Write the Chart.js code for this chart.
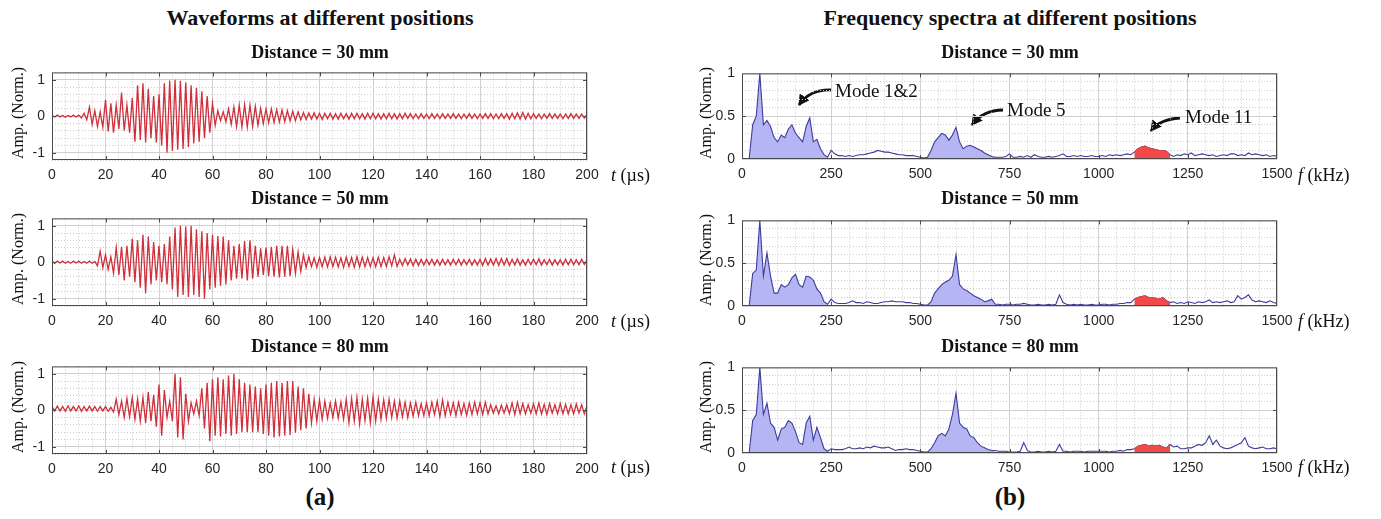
<!DOCTYPE html>
<html>
<head>
<meta charset="utf-8">
<script src="https://cdn.jsdelivr.net/npm/chart.js@4.4.0/dist/chart.umd.min.js"></script>
<style>
  body { margin: 0; background: #fff; width: 1381px; height: 519px; position: relative; overflow: hidden; }
  canvas { position: absolute; }
  .txt { position: absolute; white-space: nowrap; color: #111; font-family: "Liberation Serif", "Times New Roman", serif; transform: translate(-50%, -50%); }
  .head { font-size: 22px; font-weight: bold; }
  .sub { font-size: 18px; font-weight: bold; }
  .ylab { font-size: 16px; transform: translate(-50%, -50%) rotate(-90deg); }
  .xlab { font-size: 18px; transform: translate(0, -50%); }
  .tag { font-size: 25px; font-weight: bold; }
  .note { font-size: 19px; transform: translate(0, -50%); }
  svg { position: absolute; left: 0; top: 0; }
</style>
</head>
<body>
<svg width="1381" height="519" id="arrows">
  <defs>
    <marker id="head" markerWidth="12" markerHeight="12" refX="10" refY="6" orient="auto" markerUnits="userSpaceOnUse">
      <path d="M0,0 L11,6 L0,12 Z" fill="#111"/>
    </marker>
  </defs>
  <path d="M832,90 Q810,89 799,105" stroke="#111" stroke-width="2.8" fill="none" marker-end="url(#head)"/>
  <path d="M1003,110 Q983,110 972,125" stroke="#111" stroke-width="2.8" fill="none" marker-end="url(#head)"/>
  <path d="M1180,118 Q1160,119 1151,131" stroke="#111" stroke-width="2.8" fill="none" marker-end="url(#head)"/>
</svg>
<script>
// ===============================
// DATA
// ===============================
const distances = ["30", "50", "80"];
const T_STEP = 1;      // µs between samples
const F_STEP = 10;     // kHz between samples

const wave30 = [
  0.02,-0.02,0.03,-0.02,0.02,-0.03,0.02,-0.02,0.03,-0.02,
  0.03,-0.05,0.08,-0.1,0.25,-0.22,0.15,-0.28,0.12,-0.3,
  0.45,-0.42,0.35,-0.45,0.3,-0.35,0.65,-0.4,0.3,-0.45,
  0.5,-0.7,0.85,-0.65,0.9,-0.72,0.75,-0.6,0.55,-0.72,
  0.6,-0.8,0.9,-1.0,0.98,-0.95,1.0,-0.92,0.97,-0.9,
  0.92,-0.85,0.85,-0.75,0.78,-0.7,0.68,-0.6,0.55,-0.45,
  0.35,-0.25,0.15,-0.12,0.12,-0.15,0.2,-0.22,0.25,-0.28,
  0.3,-0.3,0.32,-0.3,0.3,-0.28,0.27,-0.25,0.22,-0.2,
  0.2,-0.18,0.2,-0.17,0.18,-0.16,0.17,-0.15,0.15,-0.13,
  0.14,-0.12,0.12,-0.1,0.1,-0.09,0.09,-0.08,0.09,-0.08,
  0.08,-0.09,0.08,-0.07,0.08,-0.08,0.07,-0.08,0.08,-0.07,
  0.07,-0.08,0.08,-0.07,0.08,-0.07,0.07,-0.08,0.08,-0.07,
  0.08,-0.07,0.07,-0.08,0.07,-0.07,0.08,-0.07,0.07,-0.08,
  0.07,-0.07,0.08,-0.06,0.07,-0.07,0.06,-0.07,0.07,-0.06,
  0.06,-0.07,0.07,-0.06,0.06,-0.07,0.07,-0.06,0.06,-0.06,
  0.07,-0.06,0.06,-0.07,0.06,-0.06,0.07,-0.06,0.06,-0.07,
  0.06,-0.06,0.07,-0.06,0.07,-0.07,0.06,-0.07,0.07,-0.06,
  0.07,-0.08,0.08,-0.07,0.09,-0.08,0.1,-0.08,0.08,-0.07,
  0.07,-0.06,0.06,-0.07,0.06,-0.06,0.07,-0.06,0.06,-0.06,
  0.06,-0.07,0.06,-0.06,0.07,-0.06,0.06,-0.06,0.06,-0.05,
  0.05
];

const wave50 = [
  0.03,-0.03,0.03,-0.02,0.03,-0.03,0.02,-0.03,0.03,-0.02,
  0.03,-0.03,0.02,-0.03,0.03,-0.03,0.02,-0.1,0.3,-0.15,
  0.2,-0.2,0.15,-0.3,0.4,-0.35,0.42,-0.5,0.45,-0.4,
  0.65,-0.55,0.6,-0.7,0.75,-0.85,0.7,-0.6,0.55,-0.5,
  0.45,-0.55,0.5,-0.6,0.7,-0.75,0.95,-0.95,1.0,-0.9,
  0.98,-0.95,1.0,-0.9,0.9,-0.95,0.85,-1.0,0.8,-0.75,
  0.75,-0.7,0.72,-0.65,0.7,-0.6,0.6,-0.5,0.45,-0.45,
  0.5,-0.45,0.58,-0.5,0.6,-0.45,0.45,-0.4,0.38,-0.35,
  0.4,-0.38,0.42,-0.4,0.45,-0.42,0.45,-0.4,0.45,-0.38,
  0.35,-0.3,0.28,-0.25,0.2,-0.15,0.15,-0.12,0.12,-0.14,
  0.13,-0.12,0.14,-0.13,0.15,-0.12,0.14,-0.13,0.12,-0.14,
  0.14,-0.12,0.13,-0.14,0.15,-0.13,0.14,-0.12,0.13,-0.12,
  0.12,-0.13,0.14,-0.12,0.13,-0.12,0.15,-0.1,0.2,-0.12,
  0.08,-0.09,0.1,-0.08,0.09,-0.1,0.08,-0.09,0.08,-0.08,
  0.08,-0.07,0.08,-0.08,0.07,-0.08,0.08,-0.07,0.07,-0.08,
  0.08,-0.07,0.08,-0.08,0.07,-0.07,0.08,-0.08,0.07,-0.08,
  0.08,-0.09,0.1,-0.08,0.09,-0.08,0.1,-0.09,0.1,-0.08,
  0.1,-0.09,0.08,-0.08,0.09,-0.08,0.07,-0.08,0.08,-0.07,
  0.08,-0.07,0.09,-0.08,0.07,-0.07,0.08,-0.08,0.07,-0.07,
  0.07,-0.08,0.08,-0.07,0.08,-0.07,0.07,-0.07,0.08,-0.06,
  0.06
];

const wave80 = [
  0.1,-0.02,0.11,-0.02,0.1,-0.03,0.12,-0.02,0.1,-0.02,
  0.12,-0.03,0.1,-0.02,0.11,-0.02,0.1,-0.03,0.1,-0.02,
  0.1,-0.03,0.08,-0.05,0.3,-0.12,0.25,-0.2,0.32,-0.18,
  0.35,-0.25,0.3,-0.3,0.35,-0.35,0.5,-0.3,0.42,-0.45,
  0.7,-0.7,0.55,-0.2,0.25,-0.3,1.0,-0.75,0.9,-0.8,
  0.45,-0.3,0.2,-0.1,0.25,-0.15,0.6,-0.5,0.75,-0.85,
  0.85,-0.7,0.9,-0.72,0.85,-0.65,0.95,-0.7,1.0,-0.65,
  0.85,-0.6,0.75,-0.6,0.7,-0.6,0.65,-0.6,0.6,-0.65,
  0.7,-0.7,0.75,-0.75,0.8,-0.72,0.75,-0.7,0.8,-0.68,
  0.8,-0.62,0.65,-0.55,0.6,-0.5,0.45,-0.35,0.3,-0.3,
  0.28,-0.25,0.25,-0.22,0.2,-0.2,0.25,-0.22,0.22,-0.25,
  0.3,-0.35,0.32,-0.3,0.35,-0.38,0.3,-0.28,0.32,-0.35,
  0.36,-0.3,0.3,-0.25,0.28,-0.22,0.3,-0.2,0.25,-0.22,
  0.25,-0.18,0.22,-0.2,0.2,-0.16,0.22,-0.15,0.18,-0.15,
  0.2,-0.15,0.22,-0.12,0.25,-0.18,0.28,-0.15,0.22,-0.12,
  0.2,-0.15,0.22,-0.12,0.18,-0.14,0.2,-0.12,0.22,-0.1,
  0.2,-0.12,0.22,-0.1,0.15,-0.08,0.12,-0.1,0.14,-0.08,
  0.15,-0.1,0.2,-0.12,0.22,-0.1,0.18,-0.1,0.15,-0.08,
  0.18,-0.1,0.2,-0.1,0.16,-0.12,0.18,-0.08,0.15,-0.1,
  0.18,-0.1,0.16,-0.1,0.15,-0.1,0.17,-0.08,0.15,-0.1,
  0.12
];

const spec30 = [
  0,0,0,0.4,0.5,1.0,0.4,0.45,0.38,0.25,
  0.2,0.28,0.25,0.35,0.4,0.3,0.25,0.2,0.38,0.48,
  0.2,0.23,0.12,0.05,0.02,0.1,0.06,0.04,0.04,0.03,
  0.04,0.03,0.04,0.05,0.05,0.06,0.07,0.08,0.1,0.09,
  0.08,0.08,0.07,0.06,0.05,0.05,0.04,0.04,0.04,0.03,
  0.02,0.01,0.02,0.1,0.2,0.25,0.3,0.28,0.22,0.28,
  0.37,0.2,0.12,0.15,0.16,0.14,0.12,0.1,0.07,0.05,
  0.03,0.02,0.02,0.02,0.03,0.06,0.02,0.02,0.03,0.02,
  0.04,0.02,0.05,0.03,0.02,0.02,0.03,0.02,0.03,0.04,
  0.06,0.03,0.03,0.04,0.03,0.04,0.03,0.03,0.04,0.03,
  0.03,0.04,0.03,0.05,0.04,0.05,0.04,0.05,0.06,0.05,
  0.08,0.12,0.14,0.15,0.13,0.12,0.11,0.1,0.1,0.09,
  0.05,0.03,0.05,0.04,0.06,0.05,0.07,0.04,0.05,0.06,
  0.05,0.04,0.05,0.03,0.04,0.05,0.04,0.06,0.06,0.04,
  0.05,0.04,0.07,0.05,0.06,0.05,0.04,0.05,0.03,0.04,
  0.03
];

const spec50 = [
  0,0,0,0.38,0.42,1.0,0.35,0.62,0.35,0.15,
  0.15,0.25,0.22,0.25,0.33,0.37,0.25,0.22,0.35,0.34,
  0.3,0.2,0.15,0.05,0.02,0.08,0.04,0.03,0.03,0.03,
  0.04,0.06,0.04,0.04,0.03,0.05,0.04,0.03,0.03,0.04,
  0.05,0.05,0.06,0.05,0.05,0.05,0.04,0.04,0.03,0.03,
  0.02,0.01,0.01,0.05,0.15,0.2,0.25,0.28,0.3,0.35,
  0.6,0.25,0.2,0.18,0.15,0.12,0.1,0.08,0.05,0.06,
  0.08,0.02,0.02,0.01,0.02,0.02,0.01,0.02,0.02,0.03,
  0.02,0.01,0.01,0.02,0.01,0.01,0.02,0.01,0.02,0.13,
  0.04,0.02,0.01,0.02,0.01,0.02,0.01,0.01,0.02,0.01,
  0.01,0.02,0.02,0.01,0.02,0.02,0.03,0.03,0.04,0.04,
  0.08,0.1,0.11,0.12,0.1,0.1,0.09,0.08,0.1,0.06,
  0.04,0.05,0.03,0.04,0.03,0.05,0.04,0.03,0.05,0.04,
  0.05,0.07,0.04,0.05,0.04,0.05,0.06,0.04,0.05,0.12,
  0.08,0.1,0.13,0.07,0.05,0.06,0.05,0.04,0.06,0.04,
  0.03
];

const spec80 = [
  0,0,0,0.38,0.45,1.0,0.45,0.58,0.35,0.3,
  0.15,0.28,0.3,0.38,0.35,0.25,0.12,0.1,0.35,0.43,
  0.15,0.3,0.18,0.05,0.02,0.05,0.04,0.04,0.04,0.05,
  0.07,0.05,0.05,0.06,0.05,0.07,0.06,0.08,0.07,0.06,
  0.06,0.07,0.05,0.03,0.04,0.04,0.05,0.04,0.04,0.03,
  0.02,0.01,0.01,0.05,0.12,0.2,0.23,0.2,0.28,0.45,
  0.7,0.35,0.3,0.28,0.2,0.18,0.12,0.08,0.06,0.04,
  0.03,0.03,0.02,0.02,0.02,0.01,0.01,0.01,0.02,0.12,
  0.03,0.01,0.01,0.02,0.01,0.01,0.02,0.01,0.02,0.1,
  0.02,0.02,0.01,0.02,0.02,0.02,0.01,0.02,0.02,0.02,
  0.02,0.02,0.02,0.01,0.02,0.02,0.03,0.02,0.04,0.04,
  0.05,0.08,0.09,0.1,0.08,0.09,0.08,0.09,0.07,0.06,
  0.1,0.07,0.08,0.05,0.05,0.06,0.06,0.08,0.1,0.09,
  0.12,0.2,0.1,0.15,0.08,0.06,0.05,0.06,0.08,0.1,
  0.12,0.18,0.08,0.06,0.05,0.06,0.07,0.05,0.05,0.06,
  0.05
];

const waves = [wave30, wave50, wave80];
const spectra = [spec30, spec50, spec80];
const blueBands = [[20, 240], [520, 710]];  // kHz, Mode 1&2 and Mode 5
const redBand = [1100, 1200];               // kHz, Mode 11

// ===============================
// LAYOUT
// ===============================
const PAD_L = 50, PAD_T = 8, PAD_R = 28, PAD_B = 26;
const leftCol = { x: 52, w: 535, tops: [65, 211, 359], h: 95 };
const rightCol = { x: 742, w: 535, tops: [66, 213, 360], h: 93 };
const TICK_FONT = { family: "'Liberation Sans', Arial, sans-serif", size: 14 };

function addText(cls, html, x, y) {
  const d = document.createElement("div");
  d.className = "txt " + cls;
  d.innerHTML = html;
  d.style.left = x + "px";
  d.style.top = y + "px";
  document.body.appendChild(d);
}

function addCanvas(col, row) {
  const c = document.createElement("canvas");
  c.width = col.w + PAD_L + PAD_R;
  c.height = col.h + PAD_T + PAD_B;
  c.style.left = (col.x - PAD_L) + "px";
  c.style.top = (col.tops[row] - PAD_T) + "px";
  document.body.appendChild(c);
  return c;
}

const near = (v, step) => Math.abs(v / step - Math.round(v / step)) < 1e-6;

// box + inward ticks like the original
const framePlugin = {
  id: "frame",
  afterDraw(chart, args, opts) {
    const { ctx, chartArea: a, scales } = chart;
    ctx.save();
    ctx.strokeStyle = "#4a4a4a";
    ctx.lineWidth = 1;
    ctx.strokeRect(a.left + 0.5, a.top + 0.5, a.right - a.left - 1, a.bottom - a.top - 1);
    opts.xMajor.forEach(v => {
      const px = Math.round(scales.x.getPixelForValue(v)) + 0.5;
      ctx.beginPath();
      ctx.moveTo(px, a.bottom); ctx.lineTo(px, a.bottom - 4);
      ctx.moveTo(px, a.top); ctx.lineTo(px, a.top + 4);
      ctx.stroke();
    });
    opts.yMajor.forEach(v => {
      const py = Math.round(scales.y.getPixelForValue(v)) + 0.5;
      ctx.beginPath();
      ctx.moveTo(a.left, py); ctx.lineTo(a.left + 4, py);
      ctx.moveTo(a.right, py); ctx.lineTo(a.right - 4, py);
      ctx.stroke();
    });
    ctx.restore();
  }
};

function axes(xMin, xMax, xMinor, xMajor, yMin, yMax, yMinor, yMajor, yFmt) {
  const grid = major => ({
    color: ctx => ctx.tick && near(ctx.tick.value, major) ? "#d0d0d0" : "#cccccc",
    drawTicks: false
  });
  const border = major => ({
    display: false,
    dash: ctx => ctx.tick && !near(ctx.tick.value, major) ? [1, 2] : []
  });
  return {
    x: {
      type: "linear", min: xMin, max: xMax,
      afterFit: s => { s.height = PAD_B; },
      grid: grid(xMajor), border: border(xMajor),
      ticks: {
        stepSize: xMinor, autoSkip: false, maxRotation: 0, padding: 7,
        color: "#262626", font: TICK_FONT,
        callback: v => near(v, xMajor) ? String(Math.round(v)) : ""
      }
    },
    y: {
      type: "linear", min: yMin, max: yMax,
      afterFit: s => { s.width = PAD_L; },
      grid: grid(yMajor), border: border(yMajor),
      ticks: {
        stepSize: yMinor, autoSkip: false, padding: 7,
        color: "#262626", font: TICK_FONT,
        callback: v => near(v, yMajor) ? yFmt(v) : ""
      }
    }
  };
}

function baseOptions(scales, xMajorList, yMajorList) {
  return {
    responsive: false,
    animation: false,
    devicePixelRatio: 1,
    layout: { padding: { left: 0, right: PAD_R, top: PAD_T, bottom: 0 } },
    plugins: {
      legend: { display: false },
      tooltip: { enabled: false },
      frame: { xMajor: xMajorList, yMajor: yMajorList }
    },
    scales: scales
  };
}

// ===============================
// WAVEFORMS (a)
// ===============================
waves.forEach((w, row) => {
  const canvas = addCanvas(leftCol, row);
  new Chart(canvas, {
    type: "line",
    data: {
      datasets: [{
        data: w.map((v, i) => ({ x: i * T_STEP, y: v })),
        borderColor: "#cf2f3b",
        borderWidth: 1.3,
        pointRadius: 0,
        tension: 0
      }]
    },
    options: baseOptions(
      axes(0, 200, 5, 20, -1.2, 1.2, 0.2, 1, v => String(Math.round(v))),
      [20, 40, 60, 80, 100, 120, 140, 160, 180], [-1, 0, 1]
    ),
    plugins: [framePlugin]
  });
});

// ===============================
// SPECTRA (b)
// ===============================
const inBand = (f, band) => f >= band[0] && f <= band[1];

spectra.forEach((s, row) => {
  const canvas = addCanvas(rightCol, row);
  const pts = s.map((v, i) => ({ x: i * F_STEP, y: v }));
  new Chart(canvas, {
    type: "line",
    data: {
      datasets: [
        {
          data: pts,
          borderColor: "#3c3c9c",
          borderWidth: 1.1,
          pointRadius: 0,
          fill: false,
          order: 1
        },
        {
          data: pts.map(p => ({ x: p.x, y: blueBands.some(b => inBand(p.x, b)) ? p.y : null })),
          borderWidth: 0,
          backgroundColor: "#b5b5f3",
          pointRadius: 0,
          fill: "origin",
          spanGaps: false,
          order: 2
        },
        {
          data: pts.map(p => ({ x: p.x, y: inBand(p.x, redBand) ? p.y : null })),
          borderColor: "#e8403f",
          borderWidth: 1,
          backgroundColor: "#f24a48",
          pointRadius: 0,
          fill: "origin",
          spanGaps: false,
          order: 0
        }
      ]
    },
    options: baseOptions(
      axes(0, 1500, 50, 250, 0, 1, 0.1, 0.5, v => (near(v, 1) ? String(Math.round(v)) : "0.5")),
      [250, 500, 750, 1000, 1250], [0.5]
    ),
    plugins: [framePlugin]
  });
});

// ===============================
// TEXT
// ===============================
addText("head", "Waveforms at different positions", 320, 18);
addText("head", "Frequency spectra at different positions", 1010, 18);

const subY = [52, 198, 346];
const xlabY = [175, 321, 467];
distances.forEach((d, r) => {
  addText("sub", "Distance = " + d + " mm", 320, subY[r]);
  addText("sub", "Distance = " + d + " mm", 1010, subY[r]);
  addText("ylab", "Amp. (Norm.)", 18, leftCol.tops[r] + leftCol.h / 2);
  addText("ylab", "Amp. (Norm.)", 706, rightCol.tops[r] + rightCol.h / 2);
  addText("xlab", "<i>t</i> (&micro;s)", 611, xlabY[r]);
  addText("xlab", "<i>f</i> (kHz)", 1298, xlabY[r]);
});

addText("note", "Mode 1&amp;2", 835, 91);
addText("note", "Mode 5", 1007, 110);
addText("note", "Mode 11", 1185, 117);

addText("tag", "(a)", 320, 497);
addText("tag", "(b)", 1010, 497);
</script>
</body>
</html>
